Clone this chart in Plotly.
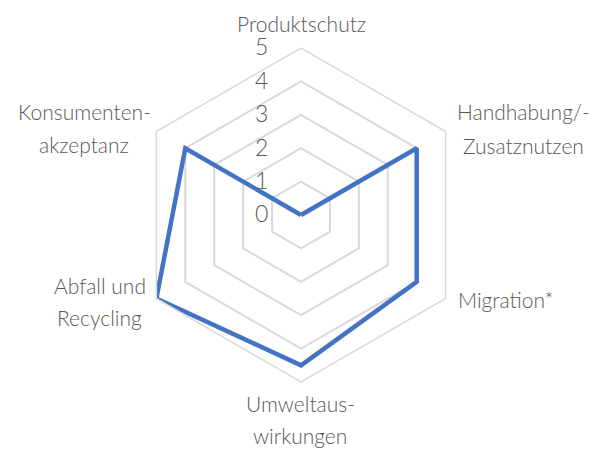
import plotly.graph_objects as go

# ---- data ----
categories = ["Produktschutz", "Handhabung/-Zusatznutzen", "Migration*",
              "Umweltaus-wirkungen", "Abfall und Recycling", "Konsumenten-akzeptanz"]
values = [0, 4, 4, 4.5, 5, 4]
radial_tickvals = [0, 1, 2, 3, 4, 5]
radial_ticktext = ["0", "1", "2", "3", "4", "5"]
label_lines = [["Produktschutz"], ["Handhabung/-", "Zusatznutzen"], ["Migration*"],
               ["Umweltaus-", "wirkungen"], ["Abfall und", "Recycling"],
               ["Konsumenten-", "akzeptanz"]]

# ---- layout constants (pixels) ----
W, H = 607, 452
CX, CY, R = 301, 215, 167
label_pos = [(301, [24]), (523, [112, 145]), (506, [299]),
             (300, [403, 435]), (100, [285, 317]), (84, [112, 144])]

TEXT = "#595959"
GRID = "#d9d9d9"
FONT = "Lato"

fig = go.Figure()
fig.add_trace(go.Scatterpolar(
    r=values + values[:1],
    theta=categories + categories[:1],
    mode="lines",
    line=dict(color="#4472C4", width=4.5),
    hoverinfo="skip",
    showlegend=False,
))

annotations = []
for lines, (px, ys) in zip(label_lines, label_pos):
    for line, py in zip(lines, ys):
        annotations.append(dict(
            text=line, x=px / W, y=1 - py / H, xref="paper", yref="paper",
            xanchor="center", yanchor="middle", showarrow=False,
            font=dict(family=FONT, size=21, color=TEXT, weight=300),
        ))

fig.update_layout(
    width=W, height=H,
    margin=dict(l=0, r=0, t=0, b=0),
    paper_bgcolor="white",
    plot_bgcolor="white",
    showlegend=False,
    annotations=annotations,
    polar=dict(
        domain=dict(x=[(CX - R) / W, (CX + R) / W], y=[(H - CY - R) / H, (H - CY + R) / H]),
        bgcolor="white",
        gridshape="linear",
        angularaxis=dict(
            categoryorder="array", categoryarray=categories,
            rotation=90, direction="clockwise",
            showgrid=False, showticklabels=False, ticks="",
            showline=True, linecolor=GRID, linewidth=1.5,
        ),
        radialaxis=dict(
            range=[0, 5], angle=90, tickangle=90, side="counterclockwise",
            tickvals=radial_tickvals, ticktext=radial_ticktext,
            showline=False, gridcolor=GRID, gridwidth=1.5,
            ticks="outside", ticklen=24, tickcolor="rgba(0,0,0,0)",
            tickfont=dict(family=FONT, size=23, color=TEXT, weight=300),
        ),
    ),
)

fig.write_html("out.html")
